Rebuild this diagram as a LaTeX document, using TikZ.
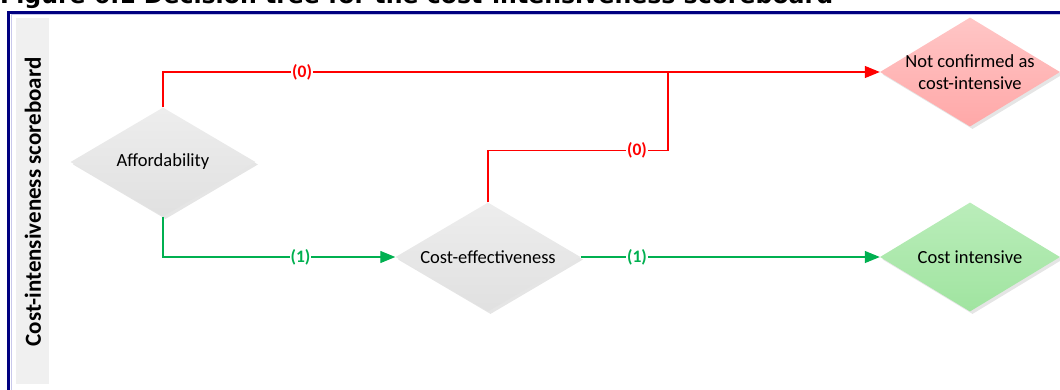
\documentclass[tikz,border=0pt]{standalone}
\usepackage{fontspec}
\setmainfont{Carlito}
\newfontfamily\headfont{DejaVu Sans}
\usepackage{tikz}
\usetikzlibrary{arrows.meta,shapes.geometric,shadows}

\definecolor{navyframe}{RGB}{0,0,128}
\definecolor{paleframe}{RGB}{200,200,235}
\definecolor{bandgray}{RGB}{240,240,240}
\definecolor{nogored}{RGB}{255,0,0}
\definecolor{gogreen}{RGB}{0,176,80}

\begin{document}
\begin{tikzpicture}[
            x=1pt, y=-1pt,
            decision/.style={
                diamond, inner sep=0pt, minimum width=185pt, minimum height=109pt,
                drop shadow={shadow xshift=2.5pt, shadow yshift=-2.5pt, fill=black!10, opacity=1}
            },
            grey/.style={decision, top color=black!7, bottom color=black!12},
            pink/.style={decision, top color={rgb,255:red,255;green,198;blue,198}, bottom color={rgb,255:red,255;green,168;blue,168}},
            mint/.style={decision, top color={rgb,255:red,186;green,237;blue,186}, bottom color={rgb,255:red,160;green,228;blue,160}},
            txt/.style={align=center, inner sep=0pt, text=black, font=\fontsize{18.5}{21.5}\selectfont},
            nogo/.style={draw=nogored, line width=1.3pt},
            go/.style={draw=gogreen, line width=1.3pt},
            tip/.style={-{Triangle[length=15pt, width=12pt]}},
            lbl/.style={fill=white, inner sep=1pt, font=\bfseries\fontsize{17.5}{19}\selectfont}
        ]
            \useasboundingbox (0,0) rectangle (1060,389);

            % --- TITLE AND FRAME ---
            \node[anchor=base west, inner sep=0pt, font=\headfont\bfseries\fontsize{23.6}{26}\selectfont] (title) at (0,3.5)
                {Figure 6.1 Decision tree for the cost-intensiveness scoreboard};
            \draw[navyframe, line width=3pt] (8.5,420) |- (1100,12);
            \draw[paleframe, line width=0.8pt] (11.4,420) |- (1100,14.4);

            % side band with rotated heading
            \fill[bandgray] (16,18) rectangle (49,384);
            \node[rotate=90, inner sep=0pt, font=\bfseries\fontsize{23}{25}\selectfont] (band) at (33,202)
                {Cost-intensiveness scoreboard};

            % --- DECISIONS ---
            \node[grey] (afford) at (163,162) {};
            \node[grey] (costeff) at (488,257) {};
            \node[pink, minimum width=180pt] (notconf) at (970,72) {};
            \node[mint, minimum width=180pt] (costint) at (970,257) {};

            \node[txt] at (afford) {Affordability};
            \node[txt] at (costeff) {Cost-effectiveness};
            \node[txt] at (notconf) {Not confirmed as\\cost-intensive};
            \node[txt] at (costint) {Cost intensive};

            % red branches, joining at x=668 before the arrow
            \coordinate (merge) at (668,72);
            \draw[nogo, tip] (afford.north) |- (notconf.west) node[lbl, text=nogored, pos=0.597] {(0)};
            \draw[nogo] (costeff.north) -- ++(0,-52) -| (merge) node[lbl, text=nogored, pos=0.414] {(0)};

            % green branches
            \draw[go, tip] (afford.south) |- (costeff.west) node[lbl, text=gogreen, pos=0.796] {(1)};
            \draw[go, tip] (costeff.east) -- (costint.west) node[lbl, text=gogreen, pos=0.188] {(1)};

        \end{tikzpicture}
\end{document}
